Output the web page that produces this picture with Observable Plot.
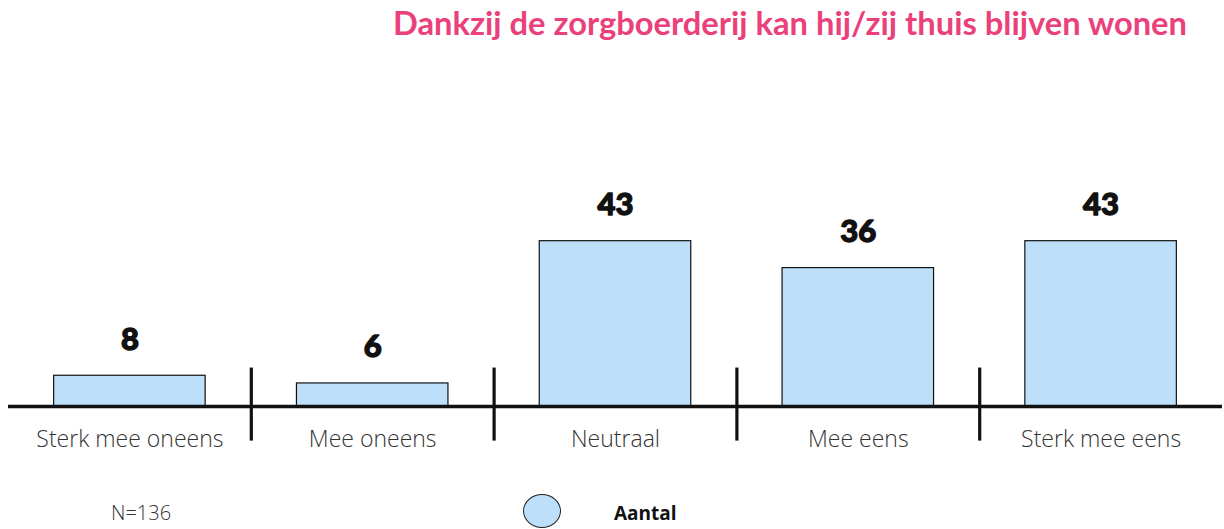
<!DOCTYPE html>
<html>
<head>
<meta charset="utf-8">
<script src="https://cdn.jsdelivr.net/npm/d3@7"></script>
<script src="https://cdn.jsdelivr.net/npm/@observablehq/plot@0.6"></script>
<style>
  html, body { margin: 0; padding: 0; background: #fff; }
  #wrap { width: 1224px; height: 529px; position: relative; overflow: hidden; }
  #title { position: relative; height: 60px; }
  #title span { position: absolute; right: 37px; top: 7px; font-family: Lato, "Open Sans", sans-serif; font-weight: 700; font-size: 32.7px; line-height: 1; color: #ea417b; white-space: nowrap; }
  #chart svg { display: block; }
  #chart g[aria-label="x-axis tick label"] text { font-weight: 300; }
  #legend { position: relative; height: 59px; }
  #legend .n { position: absolute; left: 111px; top: 33px; font-family: "Open Sans", sans-serif; font-weight: 300; font-size: 20px; line-height: 1; color: #333; }
  #legend .sw { position: absolute; left: 523px; top: 24px; width: 36px; height: 32px; border-radius: 50%; border: 1.5px solid #222; background: #bddff9; }
  #legend .lab { position: absolute; left: 614px; top: 34px; font-family: "Open Sans", sans-serif; font-weight: 700; font-size: 19px; line-height: 1; color: #111; }
</style>
</head>
<body>
<div id="wrap">
  <div id="title"><span></span></div>
  <div id="chart"></div>
  <div id="legend"><span class="n"></span><span class="sw"></span><span class="lab"></span></div>
</div>
<script>
const titleText = "Dankzij de zorgboerderij kan hij/zij thuis blijven wonen";
const categories = ["Sterk mee oneens", "Mee oneens", "Neutraal", "Mee eens", "Sterk mee eens"];
const counts = [8, 6, 43, 36, 43];
const sampleText = "N=136";
const seriesName = "Aantal";

document.querySelector("#title span").textContent = titleText;
document.querySelector("#legend .n").textContent = sampleText;
document.querySelector("#legend .lab").textContent = seriesName;

const data = categories.map((c, i) => ({i, category: c, value: counts[i]}));
const separators = d3.range(categories.length - 1).map(i => i + 0.5);
const halfBar = 0.312;

const chart = Plot.plot({
  width: 1224,
  height: 410,
  marginLeft: 8,
  marginRight: 2,
  marginTop: 0,
  marginBottom: 64,
  style: {fontFamily: "'Open Sans', sans-serif", color: "#333", background: "#fff"},
  x: {domain: [-0.5, categories.length - 0.5]},
  y: {domain: [0, 90], axis: null},
  marks: [
    Plot.rect(data, {
      x1: d => d.i - halfBar,
      x2: d => d.i + halfBar,
      y1: 0,
      y2: "value",
      fill: "#bddff9",
      stroke: "#111",
      strokeWidth: 1.2
    }),
    Plot.ruleY([0], {stroke: "#111", strokeWidth: 3.5}),
    Plot.ruleX(separators, {y1: -9, y2: 10, stroke: "#111", strokeWidth: 3.2}),
    Plot.text(data, {
      x: "i",
      y: "value",
      text: d => String(d.value),
      dy: -36,
      fontSize: 31,
      fontWeight: 900,
      fontFamily: "Lato, 'Open Sans', sans-serif",
      fill: "#111",
      stroke: "#111",
      strokeWidth: 1.3
    }),
    Plot.axisX({
      ticks: d3.range(categories.length),
      tickFormat: i => categories[i],
      tickSize: 0,
      tickPadding: 24,
      fontSize: 23,
      label: null
    })
  ]
});
document.getElementById("chart").appendChild(chart);
</script>
</body>
</html>
